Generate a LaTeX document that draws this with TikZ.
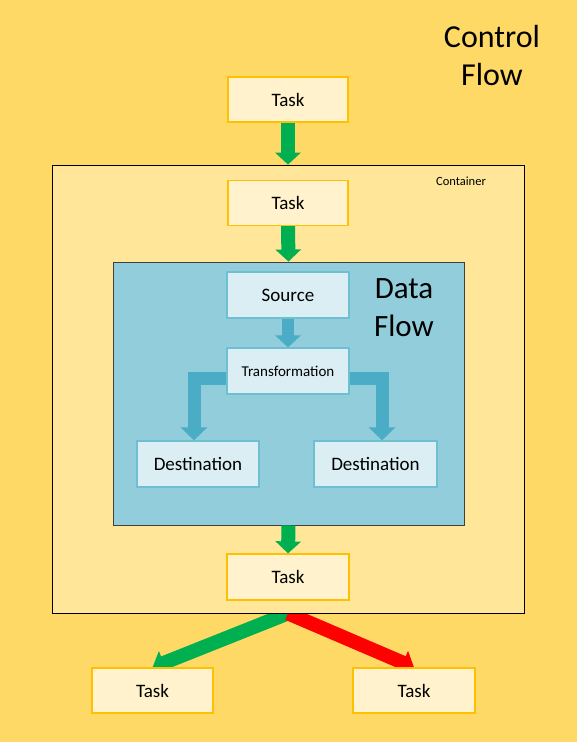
\documentclass[tikz,border=0pt]{standalone}
\usepackage{fontspec}
\setmainfont{Carlito}
\usetikzlibrary{arrows.meta}
\definecolor{bgyellow}{HTML}{FFD966}
\definecolor{contfill}{HTML}{FFE699}
\definecolor{taskfill}{HTML}{FFF2CC}
\definecolor{taskborder}{HTML}{FFC000}
\definecolor{dffill}{HTML}{92CDDC}
\definecolor{dfborder}{HTML}{404040}
\definecolor{compfill}{HTML}{DAEEF3}
\definecolor{compborder}{HTML}{6FBFD3}
\definecolor{bluearrow}{HTML}{4BACC6}
\definecolor{greenarrow}{HTML}{00B050}
\definecolor{redarrow}{HTML}{FF0000}
\pgfdeclarelayer{back}
\pgfsetlayers{back,main}
\tikzset{
  taskbox/.style={draw=taskborder, line width=1.2pt, fill=taskfill, minimum width=120pt, minimum height=45pt, inner sep=0pt, font=\fontsize{19}{23}\selectfont},
  compbox/.style={draw=compborder, line width=1.2pt, fill=compfill, minimum width=122pt, minimum height=46pt, inner sep=0pt, font=\fontsize{19}{23}\selectfont},
  garrow/.style={draw=greenarrow, line width=14pt, -{Triangle[width=25pt,length=12pt]}},
  rarrow/.style={draw=redarrow, line width=14pt, -{Triangle[width=25pt,length=12pt]}},
  barrow/.style={draw=bluearrow, line width=13pt, line join=miter, -{Triangle[width=26pt,length=13pt]}},
  bigtitle/.style={align=center, font=\fontsize{32}{38}\selectfont, inner sep=0pt}
}
\begin{document}
\begin{tikzpicture}[x=1pt,y=-1pt]
\useasboundingbox (0,0) rectangle (577,742);
\begin{pgfonlayer}{back}
\fill[bgyellow] (0,0) rectangle (577,742);
\end{pgfonlayer}
\node[bigtitle] (cftitle) at (492,55) {Control\\Flow};
\node[taskbox] (t1) at (288,99.5) {Task};
\node[draw=black, line width=0.8pt, fill=contfill, minimum width=472pt, minimum height=448pt, inner sep=0pt] (cont) at (288,389) {};
\node[font=\fontsize{12.5}{15}\selectfont, inner sep=0pt] (contlabel) at (461,181.5) {Container};
\node[taskbox] (t2) at (288,203) {Task};
\node[draw=dfborder, line width=0.9pt, fill=dffill, minimum width=351pt, minimum height=263pt, inner sep=0pt] (df) at (288.5,393.5) {};
\node[bigtitle, font=\fontsize{31}{38}\selectfont] (dftitle) at (404,308) {Data\\Flow};
\node[compbox] (src) at (288,295) {Source};
\node[compbox, font=\fontsize{15}{18}\selectfont] (trans) at (288,371) {Transformation};
\node[compbox] (dl) at (198,464) {Destination};
\node[compbox, minimum width=123pt] (dr) at (375.5,464) {Destination};
\node[taskbox, minimum width=122pt, minimum height=46pt] (t3) at (288,577) {Task};
\node[taskbox, minimum width=121pt] (bl) at (152.5,690.5) {Task};
\node[taskbox, minimum width=122pt] (br) at (414,690.5) {Task};
% connectors
\draw[garrow] (t1.south) -- (cont.north);
\draw[garrow] (t2.south) -- (df.north);
\draw[garrow] (df.south) -- (t3.north);
\draw[barrow, line width=12pt, -{Triangle[width=25pt,length=12pt]}] (src.south) -- (trans.north);
\draw[barrow] ([yshift=-7pt]trans.west) -| ([xshift=-4pt]dl.north);
\draw[barrow] ([yshift=-7pt]trans.east) -| ([xshift=6.5pt]dr.north);
\begin{pgfonlayer}{back}
\draw[garrow] (cont.south) -- (bl.north);
\draw[rarrow] (cont.south) -- (br.north);
\end{pgfonlayer}
\end{tikzpicture}
\end{document}
